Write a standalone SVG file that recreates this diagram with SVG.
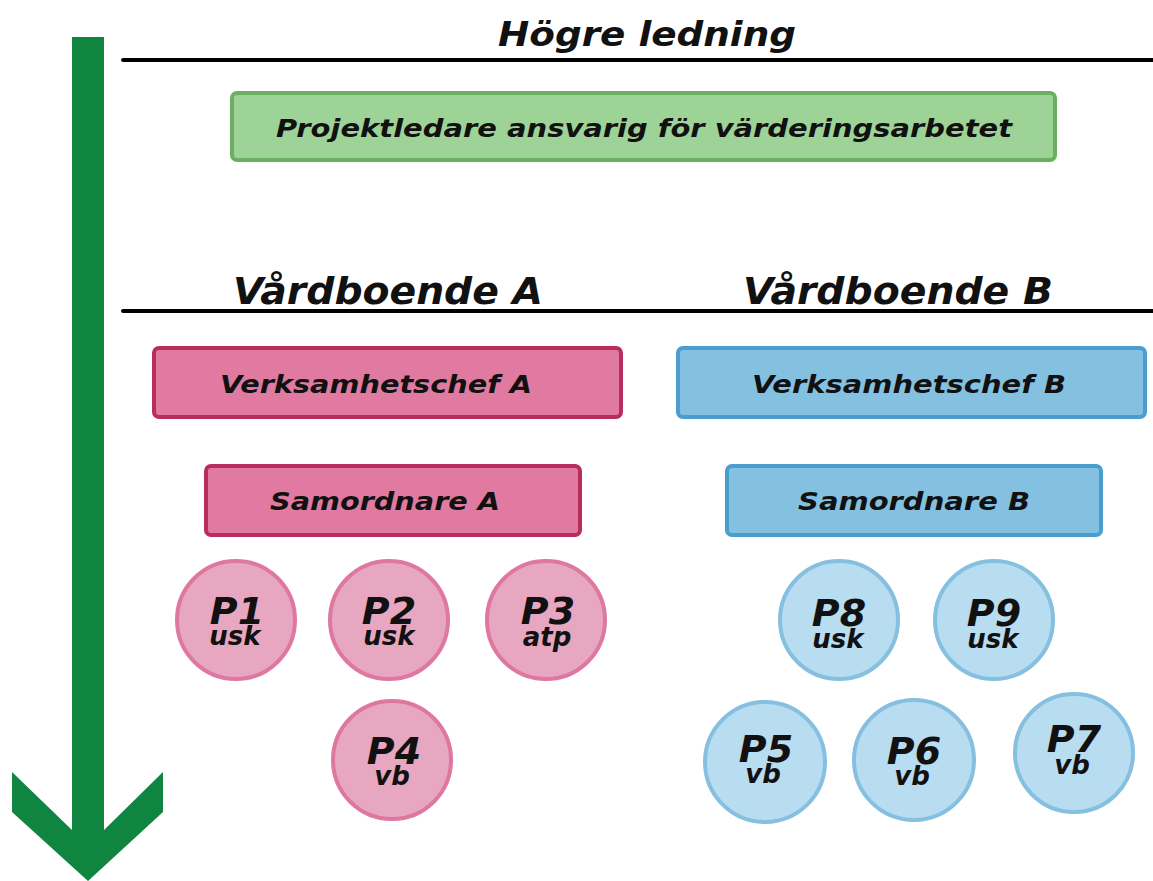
<svg xmlns="http://www.w3.org/2000/svg" width="1153" height="881" viewBox="0 0 1153 881">
<style>
text{font-family:"DejaVu Sans","Liberation Sans",sans-serif;font-style:italic;font-weight:bold;fill:#111;text-anchor:middle}
.hdr{font-size:38px}
.box{font-size:25px;font-weight:600}
.pn{font-size:38px}
.ps{font-size:26px;font-weight:600}
.gbox{fill:#9ed397;stroke:#6bb061;stroke-width:4}
.abox{fill:#e07aa0;stroke:#b92d5e;stroke-width:4}
.bbox{fill:#84c1e1;stroke:#4b9dcd;stroke-width:4}
.acirc{fill:#e8a7c1;stroke:#de78a0;stroke-width:4}
.bcirc{fill:#b8dcf0;stroke:#86c0e0;stroke-width:4}
</style>
<rect width="1153" height="881" fill="#fff"/>
<g id="arrow">
<path d="M72,37 H104 V830 L163,772 V812 L88,881 L12,812 V772 L72,830 Z" fill="#10853f"/>
</g>
<g id="connectors">
<line x1="123" y1="60" x2="1153" y2="60" stroke="#000" stroke-width="4" stroke-linecap="round"/>
<line x1="123" y1="311" x2="1153" y2="311" stroke="#000" stroke-width="4" stroke-linecap="round"/>
</g>
<g id="title"><text class="hdr" x="647" y="46" style="font-size:34px" textLength="298" lengthAdjust="spacingAndGlyphs">Högre ledning</text></g>
<g id="projektledare">
<rect class="gbox" x="232" y="93" width="823" height="67" rx="5"/>
<text class="box" x="644" y="137" textLength="736" lengthAdjust="spacingAndGlyphs">Projektledare ansvarig för värderingsarbetet</text>
</g>
<g id="vardboendeA"><text class="hdr" x="388" y="304" textLength="310" lengthAdjust="spacingAndGlyphs">Vårdboende A</text></g>
<g id="vardboendeB"><text class="hdr" x="898" y="304" textLength="310" lengthAdjust="spacingAndGlyphs">Vårdboende B</text></g>
<g id="verksamhetschefA">
<rect class="abox" x="154" y="348" width="467" height="69" rx="5"/>
<text class="box" x="376" y="393" textLength="312" lengthAdjust="spacingAndGlyphs">Verksamhetschef A</text>
</g>
<g id="samordnareA">
<rect class="abox" x="206" y="466" width="374" height="69" rx="5"/>
<text class="box" x="385" y="510" textLength="230" lengthAdjust="spacingAndGlyphs">Samordnare A</text>
</g>
<g id="verksamhetschefB">
<rect class="bbox" x="678" y="348" width="467" height="69" rx="5"/>
<text class="box" x="909" y="393" textLength="314" lengthAdjust="spacingAndGlyphs">Verksamhetschef B</text>
</g>
<g id="samordnareB">
<rect class="bbox" x="727" y="466" width="374" height="69" rx="5"/>
<text class="box" x="914" y="510" textLength="232" lengthAdjust="spacingAndGlyphs">Samordnare B</text>
</g>
<g id="P1"><circle class="acirc" cx="236" cy="620" r="59"/><text class="pn" x="237" y="624">P1</text><text class="ps" x="235" y="645">usk</text></g>
<g id="P2"><circle class="acirc" cx="389" cy="620" r="59"/><text class="pn" x="389" y="624">P2</text><text class="ps" x="389" y="645">usk</text></g>
<g id="P3"><circle class="acirc" cx="546" cy="620" r="59"/><text class="pn" x="548" y="624">P3</text><text class="ps" x="547" y="646">atp</text></g>
<g id="P4"><circle class="acirc" cx="392" cy="760" r="59"/><text class="pn" x="394" y="764">P4</text><text class="ps" x="392" y="785">vb</text></g>
<g id="P8"><circle class="bcirc" cx="839" cy="620" r="59"/><text class="pn" x="839" y="626">P8</text><text class="ps" x="838" y="648">usk</text></g>
<g id="P9"><circle class="bcirc" cx="994" cy="620" r="59"/><text class="pn" x="994" y="626">P9</text><text class="ps" x="993" y="648">usk</text></g>
<g id="P5"><circle class="bcirc" cx="765" cy="762" r="60"/><text class="pn" x="766" y="762">P5</text><text class="ps" x="763" y="783">vb</text></g>
<g id="P6"><circle class="bcirc" cx="914" cy="760" r="60"/><text class="pn" x="914" y="764">P6</text><text class="ps" x="912" y="785">vb</text></g>
<g id="P7"><circle class="bcirc" cx="1074" cy="753" r="59"/><text class="pn" x="1074" y="752">P7</text><text class="ps" x="1072" y="774">vb</text></g>
</svg>
